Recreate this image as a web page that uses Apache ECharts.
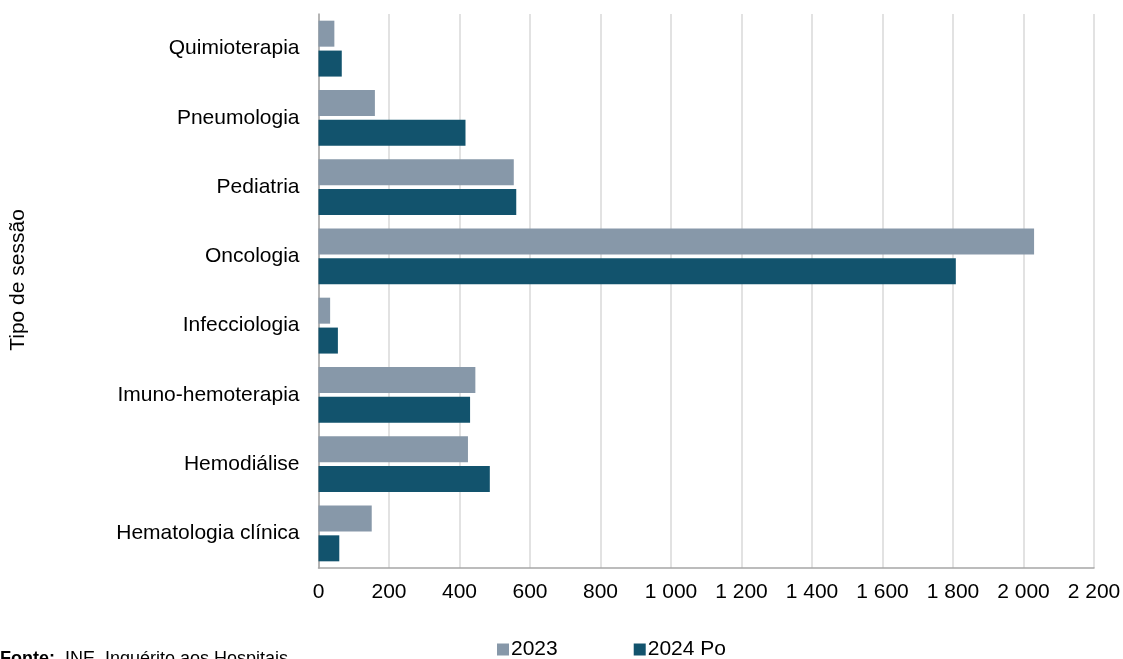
<!DOCTYPE html>
<html>
<head>
<meta charset="utf-8">
<script src="https://cdn.jsdelivr.net/npm/echarts@6/dist/echarts.min.js"></script>
<style>
  html, body { margin: 0; padding: 0; background: #fff; }
  #chart { width: 1123px; height: 659px; }
</style>
</head>
<body>
<div id="chart"></div>
<script>
// categorias (de baixo para cima)
var categorias = ['Hematologia clínica', 'Hemodiálise', 'Imuno-hemoterapia', 'Infecciologia',
    'Oncologia', 'Pediatria', 'Pneumologia', 'Quimioterapia'];
var serie2023 = [151, 424, 445, 33, 2030, 554, 160, 45];
var serie2024 = [59, 486, 430, 55, 1808, 561, 417, 66];
var nomesSeries = ['2023', '2024 Po'];

var fonte = 'Liberation Sans, Arial, sans-serif';

function fmt(v) {
    return String(v).replace(/\B(?=(\d{3})+(?!\d))/g, ' ');
}

var option = {
    animation: false,
    textStyle: { fontFamily: fonte },
    grid: { left: 318.5, right: 29, top: 14, bottom: 91, containLabel: false, outerBoundsMode: 'none' },
    legend: {
        data: nomesSeries,
        left: 497,
        top: 639,
        padding: 0,
        itemWidth: 12,
        itemHeight: 12,
        itemGap: 76,
        icon: 'rect',
        textStyle: { fontSize: 21, color: '#000', fontFamily: fonte, padding: [0, 0, 0, -3] }
    },
    xAxis: {
        type: 'value',
        min: 0,
        max: 2200,
        interval: 200,
        axisLine: { show: true, lineStyle: { color: '#a6a6a6', width: 1.5 } },
        axisTick: { show: false },
        splitLine: { lineStyle: { color: '#d9d9d9', width: 1.5 } },
        axisLabel: { fontSize: 21, color: '#000', margin: 14, formatter: fmt }
    },
    yAxis: {
        type: 'category',
        data: categorias,
        name: 'Tipo de sessão',
        nameLocation: 'middle',
        nameGap: 290,
        nameRotate: 90,
        nameTextStyle: { fontSize: 21, color: '#000', padding: [0, 0, 0, 22] },
        axisLine: { show: true, lineStyle: { color: '#a6a6a6', width: 1.5 } },
        axisTick: { show: false },
        axisLabel: { fontSize: 21, color: '#000', margin: 19 }
    },
    series: [
        {
            name: nomesSeries[0],
            type: 'bar',
            data: serie2023,
            barWidth: 26,
            barGap: '15%',
            itemStyle: { color: '#8798a9' }
        },
        {
            name: nomesSeries[1],
            type: 'bar',
            data: serie2024,
            barWidth: 26,
            barGap: '15%',
            itemStyle: { color: '#12536d' }
        }
    ],
    graphic: [
        {
            type: 'text',
            left: 0,
            top: 650,
            style: {
                text: '{b|Fonte:}  INE, Inquérito aos Hospitais',
                font: '18px ' + fonte,
                fill: '#000',
                rich: { b: { fontWeight: 'bold', fontSize: 18, fontFamily: fonte } }
            }
        }
    ]
};

var chart = echarts.init(document.getElementById('chart'));
chart.setOption(option);
</script>
</body>
</html>
